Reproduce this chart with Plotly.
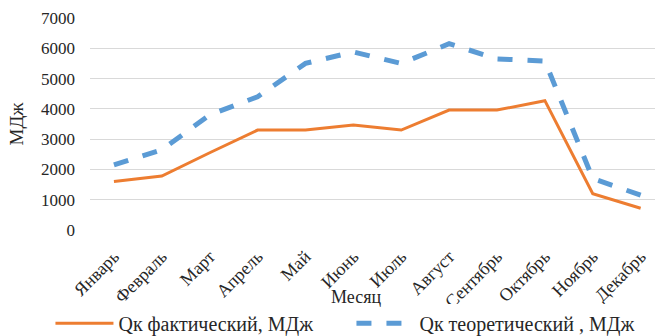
import plotly.graph_objects as go

months = ["Январь", "Февраль", "Март", "Апрель", "Май", "Июнь",
          "Июль", "Август", "Сентябрь", "Октябрь", "Ноябрь", "Декабрь"]
qk_actual = [1600, 1780, 2550, 3300, 3300, 3470, 3300, 3960, 3960, 4270, 1200, 720]
qk_theory = [2150, 2650, 3800, 4400, 5500, 5880, 5500, 6150, 5650, 5580, 1700, 1150]

FONT = "Liberation Serif"

fig = go.Figure()
fig.add_trace(go.Scatter(
    x=months, y=qk_actual, mode="lines",
    name="Qк фактический, МДж",
    line=dict(color="#ED7D31", width=3),
))
fig.add_trace(go.Scatter(
    x=months, y=qk_theory, mode="lines",
    name="Qк теоретический , МДж",
    line=dict(color="#5B9BD5", width=5, dash="dash"),
))

fig.update_layout(
    width=661, height=336,
    margin=dict(l=90, r=6, t=18, b=106, autoexpand=False),
    paper_bgcolor="white", plot_bgcolor="white",
    font=dict(family=FONT, size=17, color="#262626"),
    showlegend=True,
    legend=dict(orientation="h", x=-0.07, xanchor="left", y=-0.44, yanchor="middle",
                font=dict(size=20, family=FONT), itemwidth=58,
                entrywidth=228, entrywidthmode="pixels",
                tracegroupgap=0),
    xaxis=dict(
        tickangle=-45, showgrid=False, showline=False, zeroline=False,
        ticks="outside", ticklen=8, tickcolor="rgba(0,0,0,0)",
        tickfont=dict(size=18, family=FONT), automargin=False,
        range=[-0.5, 11.3],
    ),
    yaxis=dict(
        range=[0, 7000], dtick=1000, showgrid=True, gridcolor="#D9D9D9",
        gridwidth=1, zeroline=False, showline=False, automargin=False,
        tickfont=dict(size=17, family=FONT),
        ticklabelstandoff=14,
        title=dict(text="МДж", font=dict(size=19, family=FONT), standoff=12),
    ),
    annotations=[dict(
        text="Месяц", xref="paper", yref="paper", x=0.47, y=-0.315,
        xanchor="center", yanchor="middle", showarrow=False,
        font=dict(size=18, family=FONT),
    )],
)

fig.write_html("out.html")
